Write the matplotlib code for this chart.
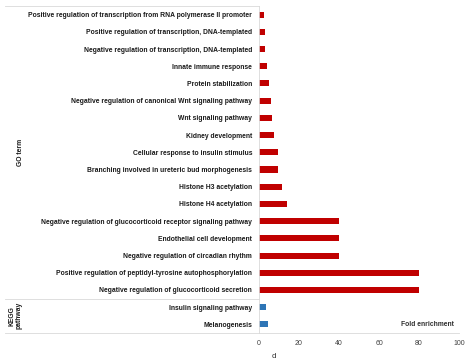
import matplotlib
matplotlib.use("Agg")
import matplotlib.pyplot as plt
from matplotlib.transforms import blended_transform_factory

plt.rcParams['font.family'] = ['Liberation Sans', 'DejaVu Sans']

go_terms = [
    "Positive regulation of transcription from RNA polymerase II promoter",
    "Positive regulation of transcription, DNA-templated",
    "Negative regulation of transcription, DNA-templated",
    "Innate immune response",
    "Protein stabilization",
    "Negative regulation of canonical Wnt signaling pathway",
    "Wnt signaling pathway",
    "Kidney development",
    "Cellular response to insulin stimulus",
    "Branching involved in ureteric bud morphogenesis",
    "Histone H3 acetylation",
    "Histone H4 acetylation",
    "Negative regulation of glucocorticoid receptor signaling pathway",
    "Endothelial cell development",
    "Negative regulation of circadian rhythm",
    "Positive regulation of peptidyl-tyrosine autophosphorylation",
    "Negative regulation of glucocorticoid secretion",
]
go_values = [2.7, 3.2, 3.2, 4.0, 5.0, 6.2, 6.7, 7.7, 9.5, 9.7, 11.5, 14.2,
             40, 40, 40, 80, 80]

kegg_terms = ["Insulin signaling pathway", "Melanogenesis"]
kegg_values = [3.7, 4.7]

x_ticks = [0, 20, 40, 60, 80, 100]

go_color = "#C00000"
kegg_color = "#2E75B6"
line_color = "#D9D9D9"

fig = plt.figure(figsize=(4.67, 3.63), dpi=100)
ax = fig.add_axes([259 / 467, 1 - 333 / 363, 200 / 467, 327 / 363])

labels = go_terms + kegg_terms
values = go_values + kegg_values
colors = [go_color] * len(go_terms) + [kegg_color] * len(kegg_terms)
ypos = list(range(len(labels)))

ax.barh(ypos, values, height=0.35, color=colors)
ax.set_ylim(len(labels) - 0.5, -0.5)
ax.set_xlim(0, 100)
ax.set_xticks(x_ticks)
ax.set_yticks(ypos)
ax.set_yticklabels(labels, fontsize=4.85, fontweight='bold', color='#1a1a1a')
ax.tick_params(axis='y', length=0, pad=5)
ax.tick_params(axis='x', length=0, pad=5, labelsize=5.0)
for lbl in ax.get_xticklabels():
    lbl.set_color('#404040')

for side in ('top', 'right'):
    ax.spines[side].set_visible(False)
for side in ('left', 'bottom'):
    ax.spines[side].set_color(line_color)
    ax.spines[side].set_linewidth(0.6)

# group separators extending into the label area
tr = blended_transform_factory(ax.transAxes, ax.transData)
x_left = (5 - 259) / 200
sep = len(go_terms) - 0.5
for y in (-0.5, sep, len(labels) - 0.5):
    ax.plot([x_left, 0], [y, y], transform=tr, color=line_color,
            lw=0.6, clip_on=False)

ax.text((20 - 259) / 200, (len(go_terms) - 1) / 2, "GO term", transform=tr,
        rotation=90, ha='center', va='center', fontsize=4.9, fontweight='bold',
        color='#1a1a1a')
ax.text((16 - 259) / 200, len(go_terms) + 0.5, "KEGG\npathway", transform=tr,
        rotation=90, ha='center', va='center', fontsize=4.9, fontweight='bold',
        linespacing=1.0, color='#1a1a1a')

ax.text(84, len(labels) - 1, "Fold enrichment", ha='center', va='center',
        fontsize=4.9, fontweight='bold', color='#303030')

fig.text(274 / 467, 1 - 357 / 363, "d", ha='center', va='center',
         fontsize=5.8, color='#303030')

fig.savefig("out.png", dpi=100)
